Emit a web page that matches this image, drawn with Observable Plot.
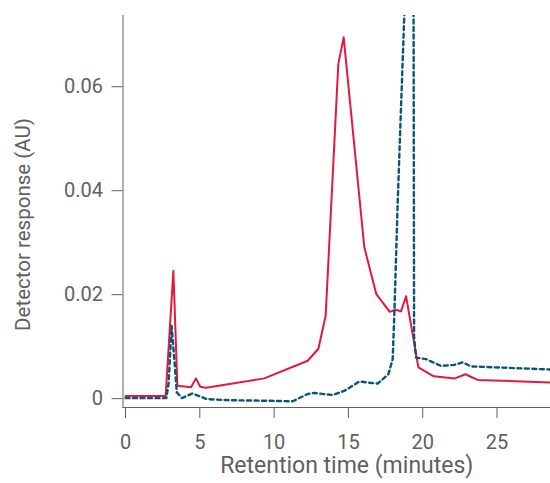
<!DOCTYPE html>
<html>
<head>
<meta charset="utf-8">
<script src="https://cdn.jsdelivr.net/npm/d3@7"></script>
<script src="https://cdn.jsdelivr.net/npm/@observablehq/plot@0.6"></script>
<style>
  html, body { margin: 0; padding: 0; background: #fff; }
  #chart svg { display: block; }
</style>
</head>
<body>
<div id="chart"></div>
<script>
// Red (solid) trace
const redTime = [0, 2.7, 3.22, 3.49, 4.41, 4.74, 5.03, 5.42, 9.34, 12.26, 12.98, 13.47, 14.32, 14.68, 16.07, 16.88, 17.78, 18.16, 18.54, 18.88, 19.71, 20.74, 22.17, 22.87, 23.7, 28.7];
const redResp = [0.0005, 0.0005, 0.0246, 0.0025, 0.0022, 0.0039, 0.0023, 0.0021, 0.0039, 0.0073, 0.0096, 0.016, 0.0644, 0.0695, 0.0291, 0.0201, 0.0167, 0.0171, 0.0168, 0.0197, 0.006, 0.0043, 0.0039, 0.0047, 0.0036, 0.0031];

// Blue (dotted) trace
const blueTime = [0, 2.75, 2.9, 3.1, 3.3, 3.45, 3.8, 4.5, 5.5, 7, 9.5, 11.25, 12.26, 12.7, 13.94, 14.73, 15.73, 16.3, 16.97, 17.69, 17.98, 18.09, 18.32, 18.54, 18.76, 18.95, 19.15, 19.38, 19.42, 19.55, 20.22, 21.23, 22.13, 22.69, 23.25, 28.7];
const blueResp = [0.0001, 0.0001, 0.003, 0.014, 0.007, 0.0012, 0.0001, 0.001, -0.0001, -0.0003, -0.0004, -0.0005, 0.0009, 0.0011, 0.0007, 0.0015, 0.0033, 0.0031, 0.0029, 0.0047, 0.0076, 0.0163, 0.038, 0.056, 0.0737, 0.088, 0.1, 0.085, 0.012, 0.0079, 0.0076, 0.0063, 0.0065, 0.007, 0.0062, 0.0056];

const xTicks = [0, 5, 10, 15, 20, 25];
const yTicks = [0, 0.02, 0.04, 0.06];
const xLabel = "Retention time (minutes)";
const yLabel = "Detector response (AU)";

const red = redTime.map((t, i) => ({t, v: redResp[i]}));
const blue = blueTime.map((t, i) => ({t, v: blueResp[i]}));

const axisColor = "#5f5f5f";
const font = "Roboto, 'Liberation Sans', Arial, sans-serif";

const chart = Plot.plot({
  width: 550,
  height: 483,
  marginLeft: 122.5,
  marginRight: 0,
  marginTop: 15,
  marginBottom: 76,
  style: {fontFamily: font, fontSize: "20px", color: axisColor, background: "#fff"},
  x: {
    domain: [-0.17, 28.6],
    ticks: xTicks,
    tickSize: 11,
    tickPadding: 16,
    line: true,
    label: null
  },
  y: {
    domain: [-0.0017, 0.0737],
    ticks: yTicks,
    tickSize: 11,
    tickPadding: 9,
    tickFormat: d => d === 0 ? "0" : d.toFixed(2),
    line: true,
    label: null
  },
  marks: [
    Plot.line(red, {x: "t", y: "v", stroke: "#e5183d", strokeWidth: 2, clip: true}),
    Plot.line(blue, {x: "t", y: "v", stroke: "#0b5478", strokeWidth: 2.4, strokeDasharray: "4,3.5", clip: true}),
    Plot.text([yLabel], {frameAnchor: "left", rotate: -90, dx: -100, dy: 13, fontSize: 20.5, fill: axisColor, textAnchor: "middle", lineAnchor: "middle"}),
    Plot.text([xLabel], {frameAnchor: "bottom", dx: 10, dy: 58, fontSize: 23, fill: axisColor, textAnchor: "middle", lineAnchor: "middle"})
  ]
});
document.getElementById("chart").appendChild(chart);
</script>
</body>
</html>
